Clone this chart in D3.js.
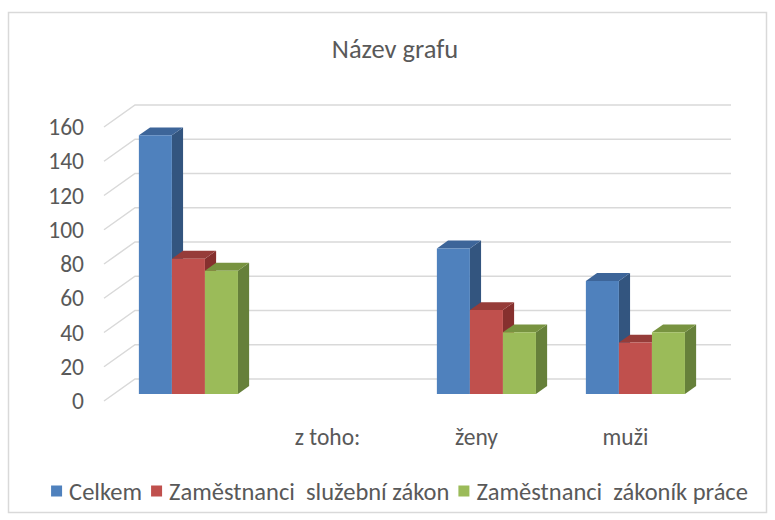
<!doctype html>
<html lang="cs">
<head>
    <meta charset="utf-8" />
    <title>Název grafu</title>
    <style>
        body { margin: 0; background: #fff; }
        svg text { font-family: Carlito, Calibri, Lato, sans-serif; fill: #595959; white-space: pre; }
    </style>
</head>
<body>
    <svg id="chart"></svg>

    <script src="https://cdn.jsdelivr.net/npm/d3@7/dist/d3.min.js"></script>
    <script>
        // data
        const categories = ["", "z toho:", "ženy", "muži"];
        const seriesNames = ["Celkem", "Zaměstnanci  služební zákon", "Zaměstnanci  zákoník práce"];
        const celkem = [151, null, 85, 66];
        const sluzebni = [79, null, 49, 30];
        const zakonik = [72, null, 36, 36];
        const yTicks = [0, 20, 40, 60, 80, 100, 120, 140, 160];

        const seriesValues = [celkem, sluzebni, zakonik];
        const fronts = ["#4f81bd", "#c0504d", "#9bbb59"];
        const tops = ["#3d6599", "#963c39", "#789340"];
        const sides = ["#33557f", "#86302e", "#66803a"];

        const W = 775, H = 520;
        const DX = 31, DY = -22;      // depth vector of the floor
        const f0 = 0.32, f1 = 0.68;   // bars sit in the middle of the depth

        const svg = d3.select("#chart").attr("width", W).attr("height", H);

        svg.append("rect")
            .attr("x", 8.5).attr("y", 12.5)
            .attr("width", 758).attr("height", 500)
            .attr("fill", "#fff").attr("stroke", "#d9d9d9").attr("stroke-width", 1.5);

        svg.append("text")
            .attr("x", 395).attr("y", 58)
            .attr("text-anchor", "middle")
            .attr("font-size", 26.5)
            .text("Název grafu");

        const x = d3.scaleBand(categories, [104, 700]);
        const y = d3.scaleLinear([0, 160], [401, 127]);
        const groupW = x.bandwidth() * 0.665;
        const xs = d3.scaleBand(d3.range(seriesNames.length), [0, groupW]);

        // gridlines: left wall + back wall
        const grid = svg.append("g")
            .attr("stroke", "#d9d9d9").attr("stroke-width", 1.5).attr("fill", "none");
        grid.selectAll("path.wall")
            .data(yTicks)
            .join("path")
            .attr("d", d => `M${x.range()[0]},${y(d)}L${x.range()[0] + DX},${y(d) + DY}L${x.range()[1] + DX},${y(d) + DY}`);

        // y tick labels
        svg.append("g")
            .selectAll("text")
            .data(yTicks)
            .join("text")
            .attr("x", 84).attr("y", d => y(d))
            .attr("dy", "0.35em")
            .attr("text-anchor", "end")
            .attr("font-size", 23.5)
            .text(d => d);

        // category labels
        svg.append("g")
            .selectAll("text")
            .data(categories)
            .join("text")
            .attr("x", d => x(d) + x.bandwidth() / 2)
            .attr("y", 437).attr("dy", "0.35em")
            .attr("text-anchor", "middle")
            .attr("font-size", 23.5)
            .text(d => d);

        // bars as boxes
        const bars = [];
        categories.forEach((c, ci) => {
            seriesValues.forEach((vals, si) => {
                if (vals[ci] != null) bars.push({ c, si, v: vals[ci] });
            });
        });

        const pt = (px, v, f) => [px + f * DX, y(v) + f * DY];
        const poly = ps => "M" + ps.map(p => p.join(",")).join("L") + "Z";

        const barG = svg.append("g")
            .selectAll("g")
            .data(bars)
            .join("g");

        barG.each(function(d) {
            const g = d3.select(this);
            const x0 = x(d.c) + (x.bandwidth() - groupW) / 2 + xs(d.si);
            const x1 = x0 + xs.bandwidth();
            g.append("path")
                .attr("fill", sides[d.si])
                .attr("d", poly([pt(x1, 0, f0), pt(x1, d.v, f0), pt(x1, d.v, f1), pt(x1, 0, f1)]));
            g.append("path")
                .attr("fill", tops[d.si])
                .attr("d", poly([pt(x0, d.v, f0), pt(x1, d.v, f0), pt(x1, d.v, f1), pt(x0, d.v, f1)]));
            g.append("path")
                .attr("fill", fronts[d.si])
                .attr("d", poly([pt(x0, 0, f0), pt(x1, 0, f0), pt(x1, d.v, f0), pt(x0, d.v, f0)]));
        });

        // legend
        const legend = svg.append("g").attr("transform", "translate(0,491)");
        const items = legend.selectAll("g")
            .data(seriesNames)
            .join("g");
        items.append("rect")
            .attr("y", -5.5).attr("width", 11).attr("height", 11)
            .attr("fill", (d, i) => fronts[i]);
        items.append("text")
            .attr("x", 18).attr("dy", "0.35em")
            .attr("font-size", 24.5)
            .text(d => d);
        const widths = [];
        items.each(function() {
            widths.push(18 + this.querySelector("text").getComputedTextLength());
        });
        const gap = 9;
        let lx = (W - (d3.sum(widths) + gap * (widths.length - 1))) / 2 + 12;
        items.attr("transform", (d, i) => {
            const t = `translate(${lx},0)`;
            lx += widths[i] + gap;
            return t;
        });
    </script>
</body>
</html>
